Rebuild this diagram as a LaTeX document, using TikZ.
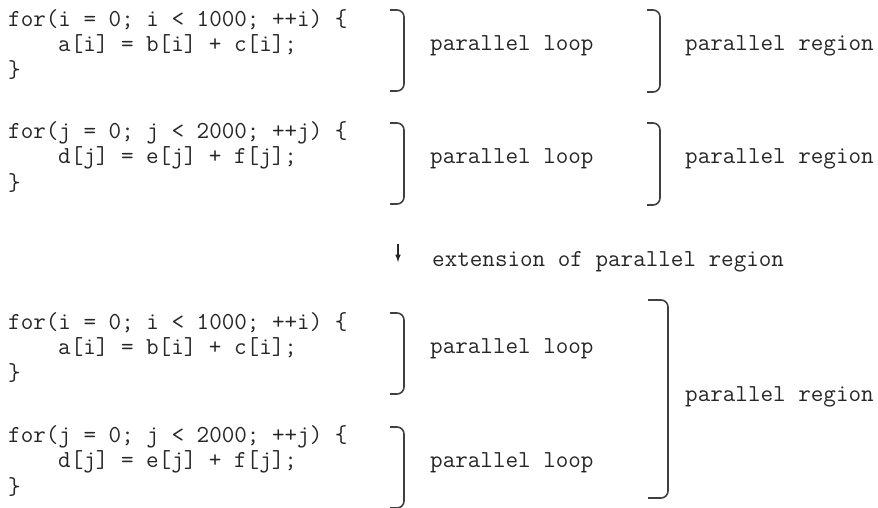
\documentclass[tikz,border=0pt]{standalone}

\begin{document}
\begin{tikzpicture}[x=1pt,y=-1pt]
   \tikzstyle{code}=[anchor=west, inner sep=0pt, text=black!85, font=\ttfamily\fontsize{24.4}{28}\selectfont]
   \tikzstyle{brace}=[draw=black!75, line width=1.6pt, rounded corners=7pt]
   \useasboundingbox (0,0) rectangle (878,508);
   \foreach \k/\y/\ix/\n/\va/\vb/\vc in {1/20/i/1000/a/b/c,2/133/j/2000/d/e/f,3/323/i/1000/a/b/c,4/437/j/2000/d/e/f} {
       \node[code] (head\k) at (8,\y) {for(\ix~=~0;~\ix~<~\n;~++\ix)~\{};
       \node[code] (body\k) at (58,\y+25) {\va[\ix]~=~\vb[\ix]~+~\vc[\ix];};
       \node[code] (tail\k) at (8,\y+50) {\}};
       \coordinate (lt\k) at (390,\y-10);
       \coordinate (lb\k) at (390,\y+71);
       \draw[brace] (lt\k) -| (404,\y+30) |- (lb\k);
       \node[code] (loop\k) at (430,\y+26) {parallel loop};
   }
   \foreach \k/\y in {1/20,2/133} {
       \coordinate (rt\k) at (647,\y-10);
       \coordinate (rb\k) at (647,\y+72);
       \draw[brace] (rt\k) -| (660,\y+30) |- (rb\k);
       \node[code] (region\k) at (685,\y+26) {parallel region};
   }
   % merged region
   \coordinate (mt) at (648,300);
   \coordinate (mb) at (648,498);
   \draw[brace] (mt) -| (668,400) |- (mb);
   \node[code] (region3) at (685,397) {parallel region};
   % extension step
   \coordinate (from) at (398,244);
   \coordinate (to) at (398,262);
   \draw[-latex, line width=1.5pt, black!85] (from) -- (to);
   \node[code] (ext) at (432,262) {extension of parallel region};
\end{tikzpicture}
\end{document}
